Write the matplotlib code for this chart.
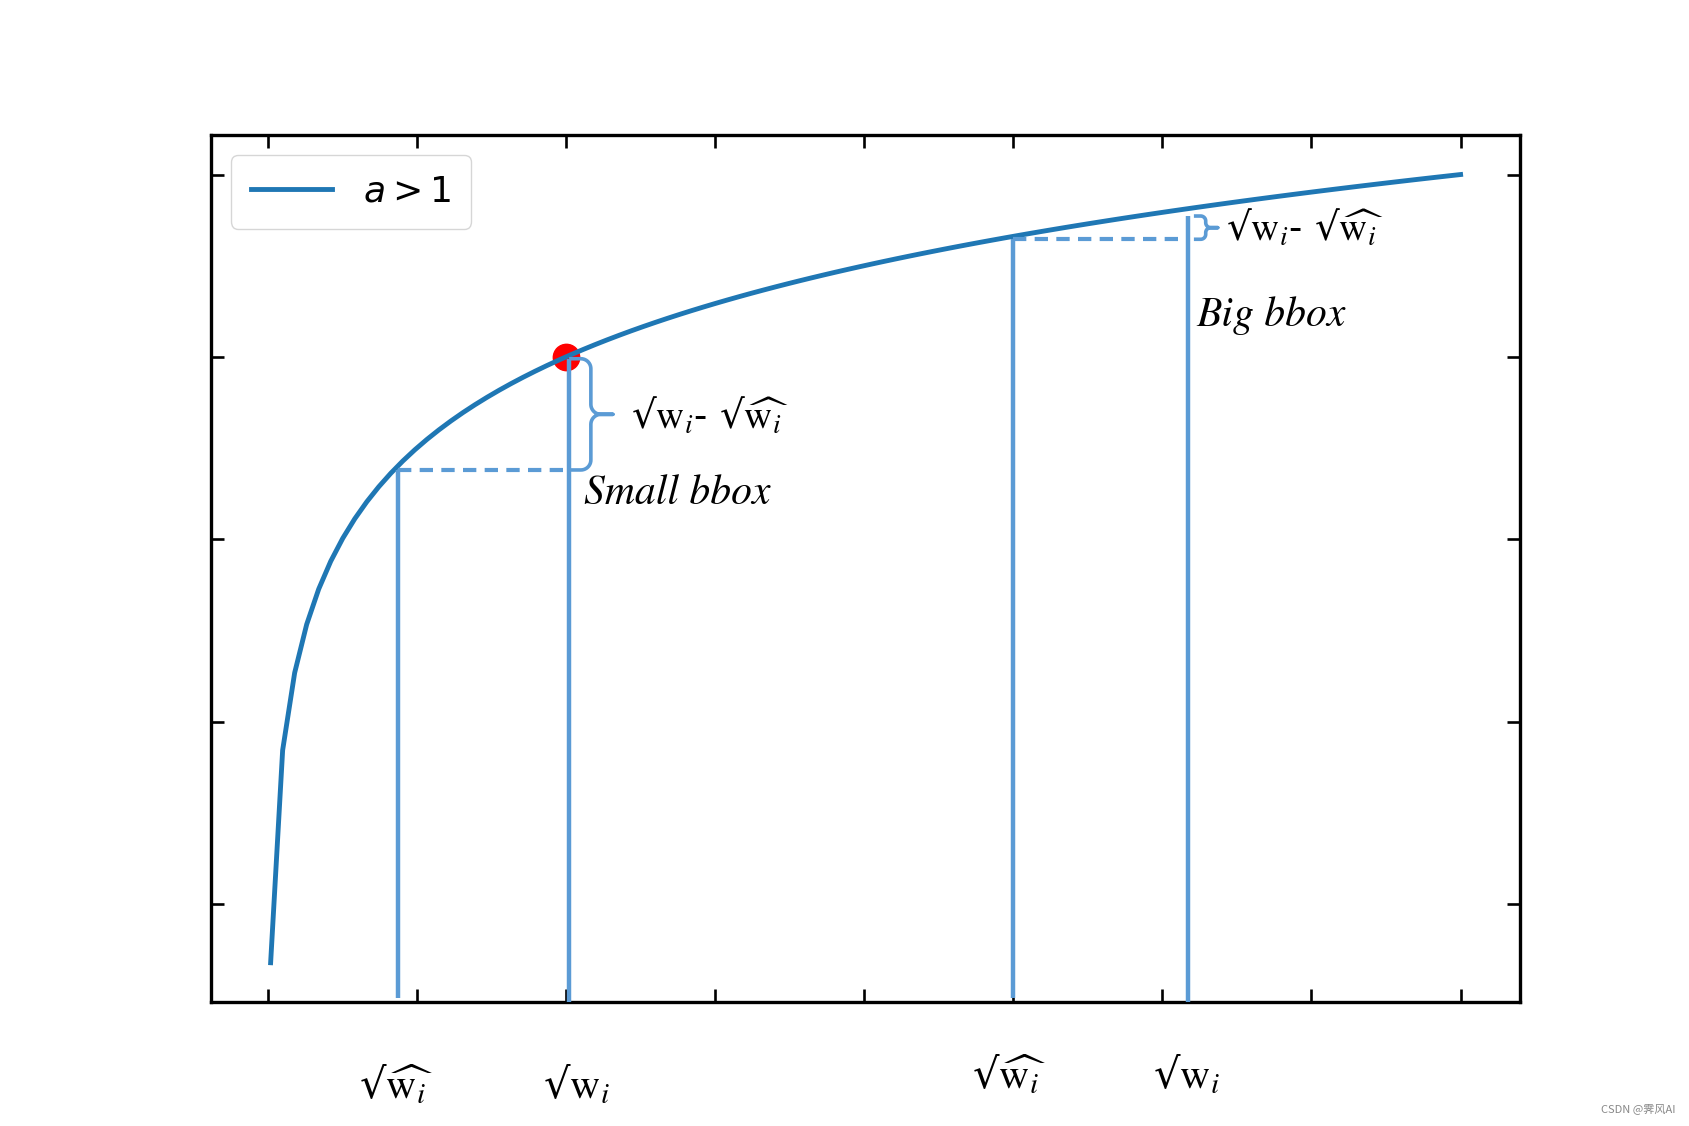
import numpy as np
import matplotlib

matplotlib.use("Agg")
import matplotlib.pyplot as plt
from matplotlib.font_manager import FontProperties

# curve samples (x from 0.02 to 8, y = log2 x)
x_curve = np.linspace(0.02, 8, 100)
y_curve = np.log2(x_curve)
x_ticks = [0, 1, 2, 3, 4, 5, 6, 7, 8]
y_ticks = [-5, -3, -1, 1, 3]

# annotated point
dot_x, dot_y = 2.0, 1.0

# small / big bbox guides
guide_x = [0.876, 2.02, 5.0, 6.17]
guide_top = [-0.24, 0.98, 2.29, 2.545]
guide_bottom_gap = [True, False, True, False]
dash_level = [-0.24, 2.29]
dash_from = [0.876, 5.0]
dash_to = [2.02, 6.17]

lab_w = "√$\\mathrm{w}_i$"
lab_what = "√$\\widehat{\\mathrm{w}_i}$"
diff_lab = "√$\\mathrm{w}_i$- √$\\widehat{\\mathrm{w}_i}$"
bottom_labels = [lab_what, lab_w, lab_what, lab_w]
bottom_x = [0.865, 2.07, 4.97, 6.16]
bottom_y = [-0.096, -0.096, -0.085, -0.085]

guide_color = "#5B9BD5"

fig, ax = plt.subplots(figsize=(16.89, 11.26), dpi=100)
ax.plot(x_curve, y_curve, color="#1f77b4", lw=3.5, label="$a>1$", zorder=3)
ax.plot(dot_x, dot_y, "o", color="red", ms=19, zorder=2)
ax.set_xlim(ax.get_xlim())
ax.set_ylim(ax.get_ylim())
ymin = ax.get_ylim()[0]

ax.set_xticks(x_ticks)
ax.set_yticks(y_ticks)
ax.tick_params(direction="in", top=True, right=True, length=9.5, width=1.9,
               labelbottom=False, labelleft=False)
for s in ax.spines.values():
    s.set_linewidth(2.4)

# vertical guides
for gx, gt, gap in zip(guide_x, guide_top, guide_bottom_gap):
    yb = ymin + (0.04 if gap else 0)
    ax.plot([gx, gx], [yb, gt], color=guide_color, lw=3.2, clip_on=False,
             solid_capstyle="butt", zorder=4)

# dashed horizontals
for lv, x0, x1 in zip(dash_level, dash_from, dash_to):
    ax.plot([x0, x1], [lv, lv], color=guide_color, lw=3.0, ls=(0, (3.2, 2.0)),
            zorder=4)


def brace(x, y0, y1, gap, depth, tip, r):
    T = ax.transData
    px, py0 = T.transform((x, y0))
    _, py1 = T.transform((x, y1))
    xs = px + gap
    xsp = xs + depth
    xt = xsp + tip
    ym = (py0 + py1) / 2
    pts = [(xs, py1)]
    a = np.linspace(np.pi / 2, 0, 12)
    pts += list(zip(xsp - r + r * np.cos(a), py1 - r + r * np.sin(a)))
    a = np.linspace(np.pi, 1.5 * np.pi, 12)
    pts += list(zip(xsp + r + r * np.cos(a), ym + r + r * np.sin(a)))
    pts.append((xt, ym))
    pts.append((xsp + r, ym))
    a = np.linspace(np.pi / 2, np.pi, 12)
    pts += list(zip(xsp + r + r * np.cos(a), ym - r + r * np.sin(a)))
    a = np.linspace(0, -np.pi / 2, 12)
    pts += list(zip(xsp - r + r * np.cos(a), py0 + r + r * np.sin(a)))
    pts.append((xs, py0))
    d = T.inverted().transform(np.array(pts))
    ax.plot(d[:, 0], d[:, 1], color=guide_color, lw=2.6, zorder=4,
            solid_joinstyle="round")


brace(guide_x[1], guide_top[0], guide_top[1], 2, 20, 22, 10)
brace(guide_x[3], guide_top[2], guide_top[3], 8, 10, 12, 5)

sq = dict(family="DejaVu Serif", va="center", math_fontfamily="stix")
it = dict(fontsize=30, family="STIXGeneral", style="italic", va="center")
ax.text(2.44, 0.35, diff_lab, ha="left", fontsize=28, **sq)
ax.text(6.43, 2.41, diff_lab, ha="left", fontsize=28, **sq)
ax.text(2.12, -0.50, "Small bbox", ha="left", **it)
ax.text(6.23, 1.45, "Big bbox", ha="left", **it)

tr = ax.get_xaxis_transform()
for lab, bx, by in zip(bottom_labels, bottom_x, bottom_y):
    ax.text(bx, by, lab, transform=tr, ha="center", clip_on=False, fontsize=30,
            **sq)

ax.legend(loc="upper left", prop=FontProperties(size=26), handlelength=2.25,
          borderaxespad=0.55, handletextpad=0.85, borderpad=0.55)

fig.text(0.992, 0.015, "CSDN @霁风AI", ha="right", va="center", fontsize=8,
         color="#888888", family=["Noto Sans CJK SC", "DejaVu Sans"])

fig.savefig("out.png", dpi=100)
